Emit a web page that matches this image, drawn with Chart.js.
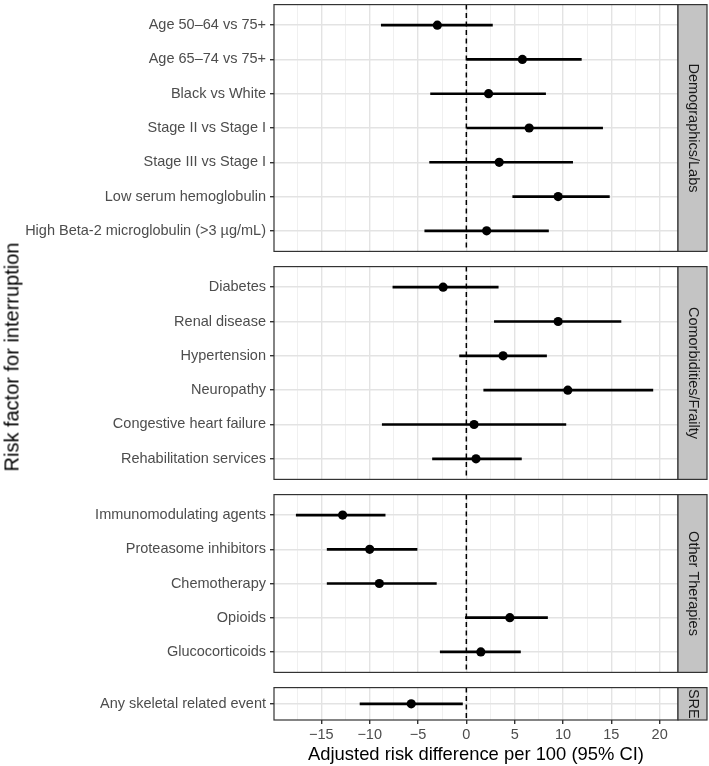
<!DOCTYPE html>
<html>
<head>
<meta charset="utf-8">
<script src="https://cdn.jsdelivr.net/npm/chart.js@4.4.0/dist/chart.umd.min.js"></script>
<style>
body { margin: 0; background: #fff; }
#wrap { position: relative; width: 709px; height: 766px; overflow: hidden; }
#wrap canvas { position: absolute; left: 0; }
#ytitle {
    position: absolute; left: 12px; top: 357px;
    transform: translate(-50%, -50%) rotate(-90deg);
    font: 20px "Liberation Sans", Arial, sans-serif;
    color: #000; white-space: nowrap;
}
</style>
</head>
<body>
<div id="wrap">
    <canvas id="p0"></canvas>
    <canvas id="p1"></canvas>
    <canvas id="p2"></canvas>
    <canvas id="p3"></canvas>
    <div id="ytitle">Risk factor for interruption</div>
</div>
<script>
const panelNames = ['Demographics/Labs', 'Comorbidities/Frailty', 'Other Therapies', 'SRE'];

const demoLabels = ['Age 50–64 vs 75+', 'Age 65–74 vs 75+', 'Black vs White', 'Stage II vs Stage I',
    'Stage III vs Stage I', 'Low serum hemoglobulin', 'High Beta-2 microglobulin (>3 µg/mL)'];
const demoEst = [-3.0, 5.8, 2.3, 6.5, 3.4, 9.5, 2.1];
const demoLo = [-8.8, 0.0, -3.7, 0.0, -3.8, 4.8, -4.3];
const demoHi = [2.7, 11.9, 8.2, 14.1, 11.0, 14.8, 8.5];

const comorbLabels = ['Diabetes', 'Renal disease', 'Hypertension', 'Neuropathy',
    'Congestive heart failure', 'Rehabilitation services'];
const comorbEst = [-2.4, 9.5, 3.8, 10.5, 0.8, 1.0];
const comorbLo = [-7.6, 2.9, -0.7, 1.8, -8.7, -3.5];
const comorbHi = [3.3, 16.0, 8.3, 19.3, 10.3, 5.7];

const therapyLabels = ['Immunomodulating agents', 'Proteasome inhibitors', 'Chemotherapy', 'Opioids', 'Glucocorticoids'];
const therapyEst = [-12.8, -10.0, -9.0, 4.5, 1.5];
const therapyLo = [-17.6, -14.4, -14.4, -0.1, -2.7];
const therapyHi = [-8.4, -5.1, -3.1, 8.4, 5.6];

const sreLabels = ['Any skeletal related event'];
const sreEst = [-5.7];
const sreLo = [-11.0];
const sreHi = [-0.4];

const xMajor = [-15, -10, -5, 0, 5, 10, 15, 20];
const xMajorLabels = ['−15', '−10', '−5', '0', '5', '10', '15', '20'];
const xMinor = [-17.5, -12.5, -7.5, -2.5, 2.5, 7.5, 12.5, 17.5];

// panel boxes in page pixels
const panelTop = [2, 264, 492, 685];
const panelBottom = [254, 482, 675, 720];

Chart.defaults.font.family = '"Liberation Sans", Arial, Helvetica, sans-serif';
Chart.defaults.animation = false;

const frame = {
    id: 'frame',
    afterDraw(chart, args, opts) {
        const a = chart.chartArea;
        const ctx = chart.ctx;
        ctx.save();
        ctx.strokeStyle = '#333333';
        ctx.lineWidth = 1.2;
        ctx.strokeRect(a.left, a.top, a.right - a.left, a.bottom - a.top);
        ctx.fillStyle = '#c4c4c4';
        ctx.fillRect(a.right, a.top, 29, a.bottom - a.top);
        ctx.strokeRect(a.right, a.top, 29, a.bottom - a.top);
        ctx.translate(a.right + 14.5, (a.top + a.bottom) / 2);
        ctx.rotate(Math.PI / 2);
        ctx.fillStyle = '#1a1a1a';
        ctx.font = '14.5px "Liberation Sans", Arial, sans-serif';
        ctx.textAlign = 'center';
        ctx.textBaseline = 'middle';
        ctx.fillText(opts.text, 0, 0);
        ctx.restore();
    }
};

function makePanel(i, labels, est, lo, hi) {
    const last = i === 3;
    const n = labels.length;
    const yMin = 0.4, yMax = n + 0.6;
    const canvas = document.getElementById('p' + i);
    canvas.width = 709;
    canvas.height = last ? 766 - panelTop[i] + 2 : panelBottom[i] - panelTop[i] + 4;
    canvas.style.top = (panelTop[i] - 2) + 'px';
    const xGrid = xMinor.concat(xMajor).sort((a, b) => a - b);

    return new Chart(canvas, {
        type: 'scatter',
        data: {
            datasets: [{
                type: 'line',
                data: [{ x: 0, y: yMin }, { x: 0, y: yMax }],
                borderColor: '#000',
                borderWidth: 1.5,
                borderDash: [5, 3.5],
                pointRadius: 0,
                order: 3
            }, {
                type: 'bar',
                indexAxis: 'y',
                data: labels.map((l, k) => ({ y: k + 1, x: [lo[k], hi[k]] })),
                backgroundColor: '#000',
                borderWidth: 0,
                barThickness: 2,
                order: 2
            }, {
                type: 'scatter',
                data: labels.map((l, k) => ({ x: est[k], y: k + 1 })),
                pointRadius: 4.6,
                pointBackgroundColor: '#000',
                pointBorderWidth: 0,
                order: 1
            }]
        },
        options: {
            responsive: false,
            devicePixelRatio: 1,
            layout: { padding: { top: 2, bottom: last ? 0 : 2, left: 0, right: 31 } },
            plugins: {
                legend: { display: false },
                tooltip: { enabled: false },
                frame: { text: panelNames[i] }
            },
            scales: {
                x: {
                    type: 'linear',
                    min: -19.9,
                    max: 21.9,
                    offset: false,
                    afterBuildTicks: s => { s.ticks = xGrid.map(v => ({ value: v })); },
                    afterFit: s => {
                        s.height = last ? 46 : 0;
                        s.paddingLeft = 0;
                        s.paddingRight = 0;
                    },
                    border: { display: false },
                    grid: {
                        offset: false,
                        color: c => xMajor.includes(c.tick.value) ? '#e3e3e3' : '#eeeeee',
                        lineWidth: c => xMajor.includes(c.tick.value) ? 1.4 : 0.9,
                        drawTicks: last,
                        tickLength: 4,
                        tickColor: c => xMajor.includes(c.tick.value) ? '#333333' : 'rgba(0,0,0,0)'
                    },
                    ticks: {
                        display: last,
                        autoSkip: false,
                        maxRotation: 0,
                        padding: 2,
                        color: '#4d4d4d',
                        font: { size: 14.5 },
                        callback: v => {
                            const k = xMajor.indexOf(v);
                            return k < 0 ? '' : xMajorLabels[k];
                        }
                    },
                    title: {
                        display: last,
                        text: 'Adjusted risk difference per 100 (95% CI)',
                        color: '#000',
                        font: { size: 18.4 },
                        padding: 0
                    }
                },
                y: {
                    type: 'linear',
                    reverse: true,
                    min: yMin,
                    max: yMax,
                    offset: false,
                    afterBuildTicks: s => { s.ticks = labels.map((l, k) => ({ value: k + 1 })); },
                    afterFit: s => {
                        s.width = 274;
                        s.paddingTop = 0;
                        s.paddingBottom = 0;
                    },
                    border: { display: false },
                    grid: {
                        offset: false,
                        color: '#e3e3e3',
                        lineWidth: 1.4,
                        tickLength: 4,
                        tickColor: '#333333'
                    },
                    ticks: {
                        autoSkip: false,
                        padding: 4,
                        color: '#4d4d4d',
                        font: { size: 14.5 },
                        callback: v => labels[Math.round(v) - 1]
                    }
                }
            }
        },
        plugins: [frame]
    });
}

makePanel(0, demoLabels, demoEst, demoLo, demoHi);
makePanel(1, comorbLabels, comorbEst, comorbLo, comorbHi);
makePanel(2, therapyLabels, therapyEst, therapyLo, therapyHi);
makePanel(3, sreLabels, sreEst, sreLo, sreHi);
</script>
</body>
</html>
